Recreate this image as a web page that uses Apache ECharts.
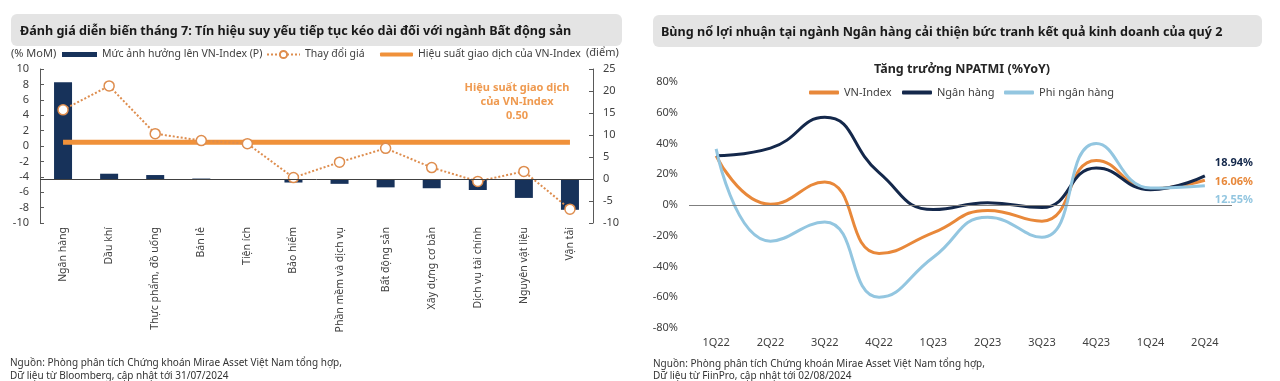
<!DOCTYPE html>
<html><head><meta charset="utf-8">
<script src="https://cdn.jsdelivr.net/npm/echarts@6/dist/echarts.min.js"></script>
<style>html,body{margin:0;padding:0;background:#fff}#c{width:1280px;height:381px}</style>
</head><body><div id="c"></div>
<script>
// ---- Left chart data ----
const sectors = ["Ngân hàng","Dầu khí","Thực phẩm, đồ uống","Bán lẻ","Tiện ích","Bảo hiểm","Phần mềm và dịch vụ","Bất động sản","Xây dựng cơ bản","Dịch vụ tài chính","Nguyên vật liệu","Vận tải"];
const impactPoints = [22.0, 1.2, 0.9, 0.1, 0.0, -0.8, -1.1, -1.9, -2.1, -2.5, -4.3, -7.0];
const priceChange = [4.7, 7.8, 1.6, 0.7, 0.3, -4.1, -2.1, -0.3, -2.8, -4.6, -3.3, -8.2];
const vnIndexPerf = 0.5;
const leftAxisRange = {min: -10, max: 10, interval: 2};
const rightAxisRange = {min: -10, max: 25, interval: 5};

// ---- Right chart data ----
const quarters = ["1Q22","2Q22","3Q22","4Q22","1Q23","2Q23","3Q23","4Q23","1Q24","2Q24"];
const npatmiVNIndex = [32, 0.5, 15, -31.5, -18, -3.5, -10.5, 29, 10.5, 16.06];
const npatmiBanks = [32, 37, 57, 21, -3, 1.5, -1.7, 24, 10, 18.94];
const npatmiNonBanks = [36.5, -23.5, -11, -60, -34, -8, -21, 40, 11, 12.55];
const pctAxisRange = {min: -80, max: 80, interval: 20};

const FF = '"Noto Sans", "Open Sans", sans-serif';
const TXT = '#404040';
const NAVY = '#17325A', ORANGE = '#F0913A', DOTORANGE = '#DE8D4E';
const R_ORANGE = '#E8883A', R_NAVY = '#14284B', R_LIGHT = '#93C6E0';

const chart = echarts.init(document.getElementById('c'), null, {renderer: 'canvas'});
const lg = (name, left, top, w, h, icon, fs) => ({
  data: [icon ? {name, icon} : name], left, top, itemWidth: w, itemHeight: h, padding: 0,
  selectedMode: false, textStyle: {fontSize: fs || 11, color: TXT, fontFamily: FF}
});
const txt = (text, x, y, font, fill, align) => ({
  type: 'text', x, y, silent: true,
  style: {text, font, fill, align: align || 'left', verticalAlign: 'middle'}
});

chart.setOption({
  animation: false,
  backgroundColor: '#fff',
  textStyle: {fontFamily: FF},
  title: [{
    text: 'Tăng trưởng NPATMI (%YoY)', left: 957, top: 58, textAlign: 'center',
    textStyle: {fontSize: 12.5, fontWeight: 'bold', color: '#262626', fontFamily: FF}
  }],
  legend: [
    lg('Mức ảnh hưởng lên VN-Index (P)', 62, 49, 35, 5, 'rect', 10.5),
    lg('Thay đổi giá', 266, 49, 33, 9, null, 10.5),
    lg('Hiệu suất giao dịch của VN-Index', 380, 49, 33, 4, 'roundRect', 10.5),
    lg('VN-Index', 809, 87, 30, 4, 'roundRect'),
    lg('Ngân hàng', 902, 87, 30, 4, 'roundRect'),
    lg('Phi ngân hàng', 1004, 87, 30, 4, 'roundRect')
  ],
  graphic: [
    {type: 'rect', silent: true, shape: {x: 11, y: 14, width: 611, height: 32, r: 6}, style: {fill: '#E4E4E4'}},
    {type: 'rect', silent: true, shape: {x: 653, y: 15, width: 609, height: 32, r: 6}, style: {fill: '#E4E4E4'}},
    txt('Đánh giá diễn biến tháng 7: Tín hiệu suy yếu tiếp tục kéo dài đối với ngành Bất động sản', 20, 31, 'bold 12.6px ' + FF, '#1a1a1a'),
    txt('Bùng nổ lợi nhuận tại ngành Ngân hàng cải thiện bức tranh kết quả kinh doanh của quý 2', 661, 32, 'bold 12.6px ' + FF, '#1a1a1a'),
    txt('(% MoM)', 11, 54, '11px ' + FF, TXT),
    txt('(điểm)', 586, 53, '11px ' + FF, TXT),
    txt('Hiệu suất giao dịch', 517, 88, 'bold 11px ' + FF, '#EF9A50', 'center'),
    txt('của VN-Index', 517, 102, 'bold 11px ' + FF, '#EF9A50', 'center'),
    txt('0.50', 517, 116, 'bold 11px ' + FF, '#EF9A50', 'center'),
    txt('Nguồn: Phòng phân tích Chứng khoán Mirae Asset Việt Nam tổng hợp,', 10, 363, '10px ' + FF, '#333'),
    txt('Dữ liệu từ Bloomberg, cập nhật tới 31/07/2024', 10, 376, '10px ' + FF, '#333'),
    txt('Nguồn: Phòng phân tích Chứng khoán Mirae Asset Việt Nam tổng hợp,', 653, 364, '10px ' + FF, '#333'),
    txt('Dữ liệu từ FiinPro, cập nhật tới 02/08/2024', 653, 376, '10px ' + FF, '#333')
  ],
  grid: [
    {left: 40, top: 69, width: 553, height: 154, containLabel: false},
    {left: 689, top: 82, width: 543, height: 246, containLabel: false}
  ],
  xAxis: [
    {type: 'category', gridIndex: 0, data: sectors, boundaryGap: true,
     axisLine: {show: false, onZero: false}, axisTick: {show: false},
     axisLabel: {rotate: 90, margin: 4, fontSize: 10.5, color: TXT, fontFamily: FF, interval: 0}},
    {type: 'category', gridIndex: 1, data: quarters, boundaryGap: true,
     axisLine: {show: false, onZero: false}, axisTick: {show: false},
     axisLabel: {margin: 9, fontSize: 11, color: TXT, fontFamily: FF, interval: 0}}
  ],
  yAxis: [
    {type: 'value', gridIndex: 0, position: 'left', ...leftAxisRange,
     axisLine: {show: true, lineStyle: {color: '#595959'}},
     axisTick: {show: true, inside: true, length: 4, lineStyle: {color: '#595959'}},
     splitLine: {show: false},
     axisLabel: {margin: 11, fontSize: 11, color: TXT, fontFamily: FF}},
    {type: 'value', gridIndex: 0, position: 'right', ...rightAxisRange,
     axisLine: {show: true, lineStyle: {color: '#595959'}},
     axisTick: {show: true, inside: true, length: 4, lineStyle: {color: '#595959'}},
     splitLine: {show: false},
     axisLabel: {margin: 10, fontSize: 11, color: TXT, fontFamily: FF}},
    {type: 'value', gridIndex: 1, ...pctAxisRange,
     axisLine: {show: false}, axisTick: {show: false}, splitLine: {show: false},
     axisLabel: {margin: 11, fontSize: 11, color: TXT, fontFamily: FF, formatter: v => v + '%'}}
  ],
  series: [
    {name: 'Mức ảnh hưởng lên VN-Index (P)', type: 'bar', xAxisIndex: 0, yAxisIndex: 1,
     data: impactPoints, barWidth: 18, itemStyle: {color: NAVY}, z: 2,
     markLine: {silent: true, symbol: 'none', label: {show: false},
       lineStyle: {color: '#404040', width: 1, type: 'solid'}, data: [{yAxis: 0}]}},
    {name: 'Hiệu suất giao dịch của VN-Index', type: 'line', xAxisIndex: 0, yAxisIndex: 0,
     data: sectors.map(() => vnIndexPerf), symbol: 'none', z: 3,
     lineStyle: {color: ORANGE, width: 5}, itemStyle: {color: ORANGE}},
    {name: 'Thay đổi giá', type: 'line', xAxisIndex: 0, yAxisIndex: 0,
     data: priceChange, symbol: 'circle', symbolSize: 10, z: 4,
     lineStyle: {color: DOTORANGE, width: 2, type: 'dotted'},
     itemStyle: {color: '#fff', borderColor: DOTORANGE, borderWidth: 1.5}},

    {name: 'VN-Index', type: 'line', xAxisIndex: 1, yAxisIndex: 2, data: npatmiVNIndex,
     smooth: 0.5, symbol: 'none', lineStyle: {color: R_ORANGE, width: 3}, itemStyle: {color: R_ORANGE},
     endLabel: {show: true, formatter: p => p.value.toFixed(2) + '%', offset: [2, 2],
       color: R_ORANGE, fontWeight: 'bold', fontSize: 11, fontFamily: FF},
     markLine: {silent: true, symbol: 'none', label: {show: false},
       lineStyle: {color: '#7f7f7f', width: 1, type: 'solid'}, data: [{yAxis: 0}]}},
    {name: 'Ngân hàng', type: 'line', xAxisIndex: 1, yAxisIndex: 2, data: npatmiBanks,
     smooth: 0.5, symbol: 'none', lineStyle: {color: R_NAVY, width: 3}, itemStyle: {color: R_NAVY},
     endLabel: {show: true, formatter: p => p.value.toFixed(2) + '%', offset: [2, -13],
       color: R_NAVY, fontWeight: 'bold', fontSize: 11, fontFamily: FF}},
    {name: 'Phi ngân hàng', type: 'line', xAxisIndex: 1, yAxisIndex: 2, data: npatmiNonBanks,
     smooth: 0.5, symbol: 'none', lineStyle: {color: R_LIGHT, width: 3}, itemStyle: {color: R_LIGHT},
     endLabel: {show: true, formatter: p => p.value.toFixed(2) + '%', offset: [2, 14],
       color: R_LIGHT, fontWeight: 'bold', fontSize: 11, fontFamily: FF}}
  ]
});
</script></body></html>
